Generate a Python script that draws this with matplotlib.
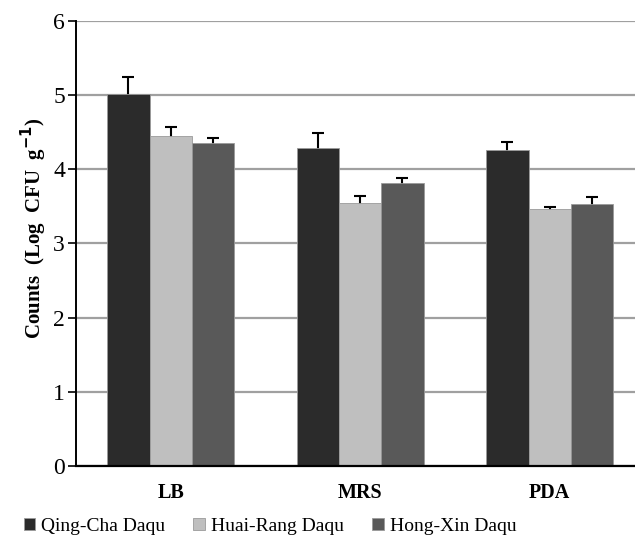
import numpy as np
import matplotlib.pyplot as plt

# ── Data ───────────────────────────────────────────────────────────────────
media = ["LB", "MRS", "PDA"]
series = ["Qing-Cha Daqu", "Huai-Rang Daqu", "Hong-Xin Daqu"]
qing_cha = [5.02, 4.29, 4.26]
huai_rang = [4.45, 3.55, 3.46]
hong_xin = [4.36, 3.81, 3.53]
qing_cha_err = [0.23, 0.20, 0.11]
huai_rang_err = [0.12, 0.09, 0.03]
hong_xin_err = [0.06, 0.07, 0.09]

colors = ["#2b2b2b", "#bfbfbf", "#595959"]

plt.rcParams["font.family"] = ["Liberation Serif", "DejaVu Serif"]

fig = plt.figure(figsize=(6.35, 5.36), dpi=100)
ax = fig.add_axes([0.1197, 0.1306, 1.0 - 0.1197, 0.961 - 0.1306])

x = np.arange(len(media))
w = 0.223
values = [qing_cha, huai_rang, hong_xin]
errs = [qing_cha_err, huai_rang_err, hong_xin_err]
for i, (vals, err, col, name) in enumerate(zip(values, errs, colors, series)):
    pos = x + (i - 1) * w
    ax.bar(pos, vals, width=w, color=col, edgecolor="#9a9a9a", linewidth=0.6,
           label=name, zorder=3)
    # bar hides the lower half, only the upper whisker shows
    ax.errorbar(pos, vals, yerr=err, fmt="none", ecolor="black",
                elinewidth=1.5, capsize=4, capthick=1.5, zorder=2)

ax.set_xlim(-0.5, 2.45)
ax.set_ylim(0, 6)
ax.set_yticks(range(0, 7))
ax.yaxis.grid(True, color="#a0a0a0", linewidth=1.6, zorder=0)
ax.set_axisbelow(True)

for s in ["top", "right"]:
    ax.spines[s].set_visible(False)
ax.spines["left"].set_linewidth(1.4)
ax.spines["bottom"].set_linewidth(1.6)
ax.spines["left"].set_zorder(5)
ax.spines["bottom"].set_zorder(5)

ax.set_xticks(x)
ax.set_xticklabels(media, fontsize=14.5, fontweight="bold")
ax.tick_params(axis="x", length=0, pad=12)
ax.tick_params(axis="y", labelsize=17, length=6, width=1.2, direction="out",
               pad=2)

ax.set_ylabel(r"Counts  (Log  CFU  g$^{\mathbf{-1}}$)", fontsize=15,
              fontweight="bold")
ax.yaxis.set_label_coords(-0.048, 0.534)

ax.legend(loc="upper center", bbox_to_anchor=(0.347, -0.077), ncol=3,
          frameon=False, fontsize=14, handlelength=0.6, handleheight=0.6,
          handletextpad=0.3, columnspacing=1.45)

plt.savefig("out.png", dpi=100)
